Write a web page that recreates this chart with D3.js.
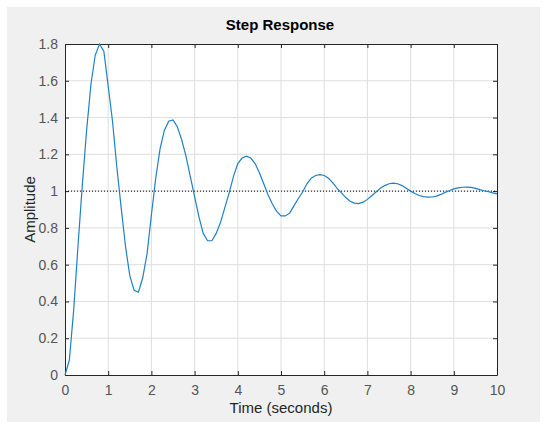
<!DOCTYPE html>
<html lang="en">
<head>
    <meta charset="UTF-8">
    <title>Step Response</title>
    <style>
        body { margin: 0; background: #fff; font-family: "Liberation Sans", Arial, sans-serif; }
        #chart { width: 550px; height: 429px; }
    </style>
    <script src="https://d3js.org/d3.v7.min.js"></script>
</head>
<body>
    <div id="chart"></div>

    <script>
        // Step response samples (dt = 0.1 s)
        const time = d3.range(0, 101).map(i => i / 10);
        const amplitude = [
            0, 0.08, 0.35, 0.70, 1.03, 1.33, 1.58, 1.74, 1.80, 1.76,
            1.57, 1.38, 1.13, 0.91, 0.70, 0.54, 0.46, 0.45, 0.53, 0.66,
            0.87, 1.07, 1.23, 1.33, 1.38, 1.387, 1.35, 1.28, 1.19, 1.08,
            0.97, 0.86, 0.77, 0.73, 0.73, 0.77, 0.83, 0.91, 0.99, 1.08,
            1.15, 1.18, 1.19, 1.18, 1.15, 1.10, 1.04, 0.98, 0.93, 0.89,
            0.865, 0.865, 0.88, 0.92, 0.96, 0.995, 1.04, 1.07, 1.085, 1.09,
            1.085, 1.07, 1.045, 1.015, 0.99, 0.965, 0.945, 0.935, 0.932, 0.94,
            0.955, 0.975, 0.995, 1.015, 1.03, 1.04, 1.043, 1.04, 1.03, 1.015,
            1.0, 0.987, 0.976, 0.97, 0.967, 0.968, 0.973, 0.982, 0.993, 1.003,
            1.012, 1.018, 1.021, 1.022, 1.02, 1.015, 1.008, 1.002, 0.997, 0.99,
            0.985
        ];
        const xTicks = [0, 1, 2, 3, 4, 5, 6, 7, 8, 9, 10];
        const yTicks = [0, 0.2, 0.4, 0.6, 0.8, 1, 1.2, 1.4, 1.6, 1.8];
        const steadyState = 1;

        const W = 550, H = 429;
        const margin = {top: 44, right: 53, bottom: 54, left: 65},
              width = W - margin.left - margin.right,
              height = H - margin.top - margin.bottom;

        const svg = d3.select('#chart').append('svg')
            .attr('width', W)
            .attr('height', H);

        // figure background
        svg.append('rect')
            .attr('x', 7).attr('y', 7)
            .attr('width', 533).attr('height', 415)
            .attr('fill', '#f0f0f0');

        const g = svg.append('g')
            .attr('transform', `translate(${margin.left}, ${margin.top})`);

        const x = d3.scaleLinear().domain([0, 10]).range([0, width]);
        const y = d3.scaleLinear().domain([0, 1.8]).range([height, 0]);

        g.append('rect')
            .attr('width', width).attr('height', height)
            .attr('fill', '#fff');

        // grid
        g.selectAll('.vgrid').data(xTicks.slice(1, -1)).enter().append('line')
            .attr('x1', d => x(d)).attr('x2', d => x(d))
            .attr('y1', 0).attr('y2', height)
            .attr('stroke', '#dfdfdf').attr('stroke-width', 1);
        g.selectAll('.hgrid').data(yTicks.slice(1, -1)).enter().append('line')
            .attr('x1', 0).attr('x2', width)
            .attr('y1', d => y(d)).attr('y2', d => y(d))
            .attr('stroke', '#dfdfdf').attr('stroke-width', 1);

        // axes, ticks pointing inward on all four sides
        const axisStyle = sel => {
            sel.select('.domain').attr('stroke', '#262626');
            sel.selectAll('.tick line').attr('stroke', '#262626');
            sel.selectAll('.tick text')
                .attr('fill', '#555')
                .style('font-size', '14px')
                .style('font-family', '"Liberation Sans", Arial, sans-serif');
        };

        g.append('g')
            .attr('transform', `translate(0, ${height})`)
            .call(d3.axisBottom(x).tickValues(xTicks).tickFormat(d3.format('d'))
                .tickSizeInner(-4).tickSizeOuter(0).tickPadding(10))
            .call(axisStyle);

        g.append('g')
            .call(d3.axisLeft(y).tickValues(yTicks).tickFormat(d => d3.format('')(+d.toFixed(1)))
                .tickSizeInner(-4).tickSizeOuter(0).tickPadding(7))
            .call(axisStyle);

        g.append('g')
            .call(d3.axisTop(x).tickValues(xTicks).tickFormat('')
                .tickSizeInner(-4).tickSizeOuter(0))
            .call(axisStyle);

        g.append('g')
            .attr('transform', `translate(${width}, 0)`)
            .call(d3.axisRight(y).tickValues(yTicks).tickFormat('')
                .tickSizeInner(-4).tickSizeOuter(0))
            .call(axisStyle);

        // steady-state reference
        g.append('line')
            .attr('x1', x(0)).attr('x2', x(10))
            .attr('y1', y(steadyState)).attr('y2', y(steadyState))
            .attr('stroke', '#000').attr('stroke-width', 1)
            .attr('stroke-dasharray', '1,2');

        // response curve
        const line = d3.line()
            .x((d, i) => x(time[i]))
            .y(d => y(d));

        g.append('path')
            .datum(amplitude)
            .attr('fill', 'none')
            .attr('stroke', '#1f80c8')
            .attr('stroke-width', 1.2)
            .attr('d', line);

        // title and labels
        svg.append('text')
            .attr('x', 280).attr('y', 30)
            .attr('text-anchor', 'middle')
            .style('font-size', '15px').style('font-weight', 'bold')
            .attr('fill', '#000')
            .text('Step Response');

        svg.append('text')
            .attr('x', margin.left + width / 2).attr('y', 413)
            .attr('text-anchor', 'middle')
            .style('font-size', '15px')
            .attr('fill', '#262626')
            .text('Time (seconds)');

        svg.append('text')
            .attr('transform', `translate(35, ${margin.top + height / 2}) rotate(-90)`)
            .attr('text-anchor', 'middle')
            .style('font-size', '15px')
            .attr('fill', '#262626')
            .text('Amplitude');
    </script>
</body>
</html>
